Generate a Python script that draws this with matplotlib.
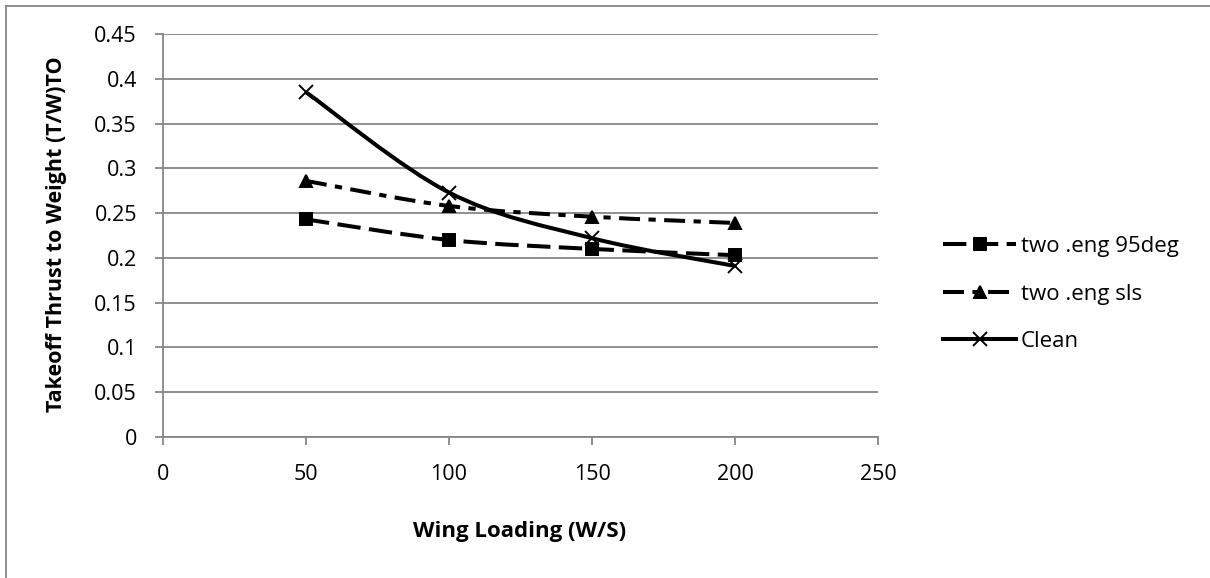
import matplotlib.pyplot as plt
from matplotlib.path import Path
from matplotlib.patches import PathPatch
from matplotlib.lines import Line2D

plt.rcParams['font.family'] = ['Open Sans', 'DejaVu Sans']

wing_loading = [50, 100, 150, 200]
eng95 = [0.243, 0.220, 0.210, 0.203]
eng_sls = [0.286, 0.258, 0.246, 0.239]
clean = [0.385, 0.273, 0.222, 0.191]

series = [
    ('two .eng 95deg', eng95, 's', (0, (5.8, 2.1))),
    ('two .eng sls', eng_sls, '^', (0, (5.2, 2.1, 1.8, 2.1))),
    ('Clean', clean, 'x', '-'),
]

gray = '#868686'
W, H = 1210, 578


def smooth_path(xs, ys):
    # Excel-style smoothing: Catmull-Rom as cubic Bezier segments
    pts = list(zip(xs, ys))
    verts = [pts[0]]
    codes = [Path.MOVETO]
    n = len(pts)
    for i in range(n - 1):
        p0 = pts[max(i - 1, 0)]
        p1 = pts[i]
        p2 = pts[i + 1]
        p3 = pts[min(i + 2, n - 1)]
        c1 = (p1[0] + (p2[0] - p0[0]) / 6, p1[1] + (p2[1] - p0[1]) / 6)
        c2 = (p2[0] - (p3[0] - p1[0]) / 6, p2[1] - (p3[1] - p1[1]) / 6)
        verts += [c1, c2, p2]
        codes += [Path.CURVE4] * 3
    return Path(verts, codes)


fig = plt.figure(figsize=(W / 100, H / 100), dpi=100)
ax = fig.add_axes([163 / W, 1 - 437 / H, 715 / W, 403 / H])

handles = []
for label, ys, mk, ls in series:
    patch = PathPatch(smooth_path(wing_loading, ys), facecolor='none',
                      edgecolor='black', lw=2.9, linestyle=ls, zorder=3)
    ax.add_patch(patch)
    ms = 8 if mk != 'x' else 10
    ax.plot(wing_loading, ys, linestyle='none', marker=mk, color='black',
            markersize=ms, markeredgewidth=1.4, zorder=4)
    handles.append(Line2D([], [], color='black', lw=2.9, linestyle=ls,
                          marker=mk, markersize=ms, markeredgewidth=1.4))

ax.set_xlim(0, 250)
ax.set_ylim(0, 0.45)
ax.set_xticks([0, 50, 100, 150, 200, 250])
ax.set_xticklabels(['0', '50', '100', '150', '200', '250'])
yt = [i * 0.05 for i in range(10)]
ax.set_yticks(yt)
ax.set_yticklabels(['0', '0.05', '0.1', '0.15', '0.2', '0.25', '0.3', '0.35', '0.4', '0.45'])
ax.yaxis.grid(True, color=gray, lw=1.3)
ax.set_axisbelow(True)
for s in ['top', 'right']:
    ax.spines[s].set_visible(False)
for s in ['left', 'bottom']:
    ax.spines[s].set_color(gray)
    ax.spines[s].set_linewidth(1.3)
ax.tick_params(direction='out', length=5.8, color=gray, width=1.3,
               labelsize=15.5)
ax.tick_params(axis='y', pad=13)
ax.tick_params(axis='x', pad=14)

fig.text(520 / W, 1 - 531 / H, 'Wing Loading (W/S)', fontsize=16,
         fontweight='bold', ha='center', va='center')
fig.text(57 / W, 1 - 234 / H, 'Takeoff Thrust to Weight (T/W)TO', fontsize=15.5,
         fontweight='bold', ha='center', va='center', rotation=90)

fig.legend(handles, [s[0] for s in series], loc='center left',
           bbox_to_anchor=(932 / W, 1 - 294 / H), frameon=False,
           fontsize=16, handlelength=3.3, labelspacing=1.2, handletextpad=0.2,
           borderpad=0)

# chart area border (only top and left edges fall inside the image)
fig.add_artist(Line2D([5.5 / W, 5.5 / W], [0, 1 - 5.5 / H], color=gray, lw=1.3,
                      transform=fig.transFigure))
fig.add_artist(Line2D([5.5 / W, 1], [1 - 5.5 / H, 1 - 5.5 / H], color=gray, lw=1.3,
                      transform=fig.transFigure))

fig.savefig('out.png', dpi=100)
